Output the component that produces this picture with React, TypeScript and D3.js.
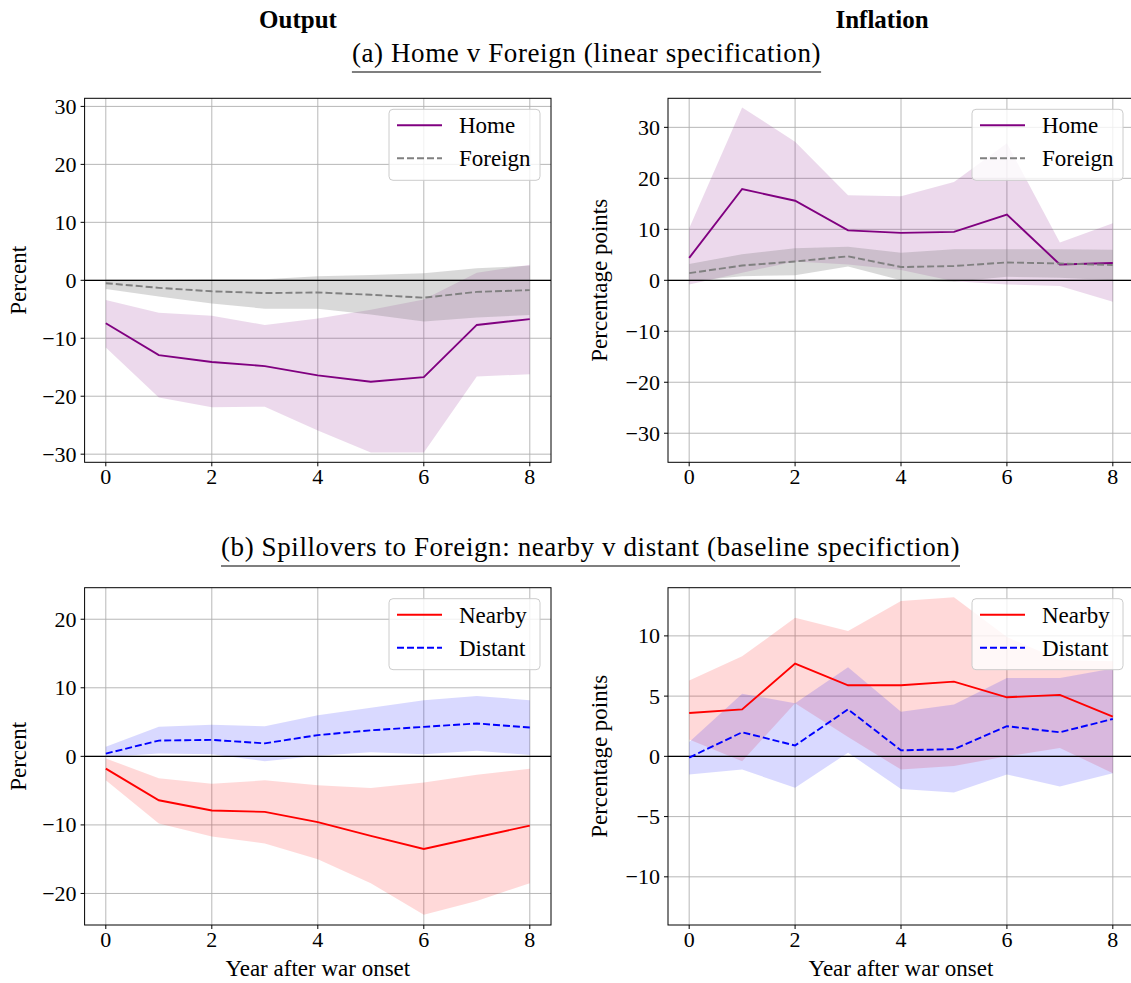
import React, { useEffect, useRef } from "react";
import * as d3 from "d3";

// ---------------- data ----------------
const years = [0, 1, 2, 3, 4, 5, 6, 7, 8];
const xTickValues = [0, 2, 4, 6, 8];

// (a) Output: Home v Foreign
const outHome = [-7.4, -12.9, -14.1, -14.8, -16.4, -17.5, -16.7, -7.7, -6.7];
const outHomeLo = [-11.6, -20.2, -21.9, -21.8, -25.9, -29.7, -29.7, -16.6, -16.2];
const outHomeHi = [-3.4, -5.6, -6.1, -7.7, -6.6, -5.1, -3.3, 1.3, 2.7];
const outForeign = [-0.5, -1.3, -1.9, -2.2, -2.1, -2.5, -3.0, -2.0, -1.7];
const outForeignLo = [-1.5, -2.8, -4.0, -4.9, -4.9, -5.9, -7.1, -6.4, -6.0];
const outForeignHi = [0.1, 0.1, 0.2, 0.2, 0.7, 0.9, 1.2, 2.1, 2.5];

// (a) Inflation: Home v Foreign
const infHome = [4.4, 17.9, 15.6, 9.8, 9.3, 9.5, 12.9, 3.1, 3.4];
const infHomeLo = [-0.8, 1.5, 3.7, 3.1, 2.0, -0.2, -0.8, -1.1, -4.2];
const infHomeHi = [10.2, 33.9, 27.2, 16.7, 16.5, 19.3, 26.9, 7.4, 11.2];
const infForeign = [1.4, 2.9, 3.7, 4.7, 2.6, 2.8, 3.5, 3.3, 3.0];
const infForeignLo = [-0.2, 0.8, 1.0, 2.7, 0.0, -0.3, 0.7, 0.5, 0.0];
const infForeignHi = [3.2, 5.1, 6.3, 6.6, 5.4, 6.1, 6.1, 6.1, 6.0];

// (b) Output: Nearby v Distant
const outNear = [-1.8, -6.4, -7.9, -8.1, -9.6, -11.6, -13.5, -11.8, -10.1];
const outNearLo = [-3.5, -9.8, -11.7, -12.7, -15.0, -18.5, -23.1, -21.1, -18.5];
const outNearHi = [-0.3, -3.2, -4.0, -3.5, -4.2, -4.6, -3.8, -2.7, -1.8];
const outDist = [0.4, 2.3, 2.4, 1.9, 3.1, 3.8, 4.3, 4.8, 4.2];
const outDistLo = [-0.1, 0.4, 0.3, -0.7, 0.1, 0.6, 0.3, 0.8, 0.2];
const outDistHi = [1.4, 4.3, 4.6, 4.4, 6.0, 7.1, 8.2, 8.8, 8.2];

// (b) Inflation: Nearby v Distant
const infNear = [3.6, 3.9, 7.7, 5.9, 5.9, 6.2, 4.9, 5.1, 3.3];
const infNearLo = [1.4, -0.4, 4.4, 1.6, -1.1, -0.8, 0.0, 0.7, -1.4];
const infNearHi = [6.3, 8.3, 11.5, 10.4, 12.9, 13.2, 9.9, 8.0, 7.9];
const infDist = [-0.1, 2.0, 0.9, 3.9, 0.5, 0.6, 2.5, 2.0, 3.1];
const infDistLo = [-1.5, -1.1, -2.6, 0.3, -2.7, -3.0, -1.5, -2.5, -1.4];
const infDistHi = [1.2, 5.2, 4.4, 7.4, 3.7, 4.3, 6.5, 6.5, 7.3];

const yTicksTop = [-30, -20, -10, 0, 10, 20, 30];
const yTicksOutB = [-20, -10, 0, 10, 20];
const yTicksInfB = [-10, -5, 0, 5, 10];

const columnTitles = ["Output", "Inflation"];
const sectionTitles = [
  "(a) Home v Foreign (linear specification)",
  "(b) Spillovers to Foreign: nearby v distant (baseline specifiction)",
];
const yLabels = ["Percent", "Percentage points"];
const xLabelText = "Year after war onset";

// ---------------- layout / style ----------------
const W = 1131;
const H = 983;
const FONT = '"Liberation Serif", "DejaVu Serif", serif';
const FS = 22;
const DASH = "7,3";
const LW = 1.9;

type Series = {
  name: string;
  mid: number[];
  lo: number[];
  hi: number[];
  color: string;
  alpha: number;
  dashed: boolean;
};

type Panel = {
  left: number;
  right: number;
  top: number;
  bottom: number;
  yDomain: [number, number];
  yTicks: number[];
  yLabel: string;
  yLabelX: number;
  xLabel: string | null;
  series: Series[];
};

const panels: Panel[] = [
  {
    left: 84.6, right: 551, top: 98.3, bottom: 462.3,
    yDomain: [-31.4, 31.4], yTicks: yTicksTop, yLabel: yLabels[0], yLabelX: 26, xLabel: null,
    series: [
      { name: "Home", mid: outHome, lo: outHomeLo, hi: outHomeHi, color: "purple", alpha: 0.15, dashed: false },
      { name: "Foreign", mid: outForeign, lo: outForeignLo, hi: outForeignHi, color: "gray", alpha: 0.3, dashed: true },
    ],
  },
  {
    left: 668, right: 1134, top: 98.3, bottom: 462.3,
    yDomain: [-35.7, 35.7], yTicks: yTicksTop, yLabel: yLabels[1], yLabelX: 607, xLabel: null,
    series: [
      { name: "Home", mid: infHome, lo: infHomeLo, hi: infHomeHi, color: "purple", alpha: 0.15, dashed: false },
      { name: "Foreign", mid: infForeign, lo: infForeignLo, hi: infForeignHi, color: "gray", alpha: 0.3, dashed: true },
    ],
  },
  {
    left: 84.6, right: 551, top: 587.7, bottom: 925,
    yDomain: [-24.6, 24.6], yTicks: yTicksOutB, yLabel: yLabels[0], yLabelX: 26, xLabel: xLabelText,
    series: [
      { name: "Nearby", mid: outNear, lo: outNearLo, hi: outNearHi, color: "red", alpha: 0.15, dashed: false },
      { name: "Distant", mid: outDist, lo: outDistLo, hi: outDistHi, color: "blue", alpha: 0.15, dashed: true },
    ],
  },
  {
    left: 668, right: 1134, top: 587.7, bottom: 925,
    yDomain: [-14, 14], yTicks: yTicksInfB, yLabel: yLabels[1], yLabelX: 607, xLabel: xLabelText,
    series: [
      { name: "Nearby", mid: infNear, lo: infNearLo, hi: infNearHi, color: "red", alpha: 0.15, dashed: false },
      { name: "Distant", mid: infDist, lo: infDistLo, hi: infDistHi, color: "blue", alpha: 0.15, dashed: true },
    ],
  },
];

const fmt = (v: number) => (v < 0 ? "\u2212" + Math.abs(v) : String(v));

function drawPanel(root: d3.Selection<SVGGElement, unknown, null, undefined>, p: Panel) {
  const g = root.append("g");
  const x = d3.scaleLinear().domain([-0.4, 8.4]).range([p.left, p.right]);
  const y = d3.scaleLinear().domain(p.yDomain).range([p.bottom, p.top]);

  // grid
  g.selectAll("line.gx")
    .data(xTickValues)
    .join("line")
    .attr("x1", (d) => x(d)).attr("x2", (d) => x(d))
    .attr("y1", p.top).attr("y2", p.bottom)
    .attr("stroke", "#b0b0b0").attr("stroke-width", 0.9);
  g.selectAll("line.gy")
    .data(p.yTicks)
    .join("line")
    .attr("x1", p.left).attr("x2", p.right)
    .attr("y1", (d) => y(d)).attr("y2", (d) => y(d))
    .attr("stroke", "#b0b0b0").attr("stroke-width", 0.9);

  // bands
  p.series.forEach((s) => {
    const area = d3
      .area<number>()
      .x((_, i) => x(years[i]))
      .y0((_, i) => y(s.lo[i]))
      .y1((_, i) => y(s.hi[i]));
    g.append("path").attr("d", area(years) as string)
      .attr("fill", s.color).attr("fill-opacity", s.alpha).attr("stroke", "none");
  });

  // zero line
  g.append("line")
    .attr("x1", p.left).attr("x2", p.right)
    .attr("y1", y(0)).attr("y2", y(0))
    .attr("stroke", "black").attr("stroke-width", 1.2);

  // lines
  p.series.forEach((s) => {
    const line = d3.line<number>().x((_, i) => x(years[i])).y((d) => y(d));
    g.append("path").attr("d", line(s.mid) as string)
      .attr("fill", "none").attr("stroke", s.color).attr("stroke-width", LW)
      .attr("stroke-dasharray", s.dashed ? DASH : null);
  });

  // spines
  g.append("rect")
    .attr("x", p.left).attr("y", p.top)
    .attr("width", p.right - p.left).attr("height", p.bottom - p.top)
    .attr("fill", "none").attr("stroke", "black").attr("stroke-width", 1);

  // ticks
  g.selectAll("line.tx")
    .data(xTickValues)
    .join("line")
    .attr("x1", (d) => x(d)).attr("x2", (d) => x(d))
    .attr("y1", p.bottom).attr("y2", p.bottom + 4)
    .attr("stroke", "black").attr("stroke-width", 1);
  g.selectAll("text.tx")
    .data(xTickValues)
    .join("text")
    .attr("x", (d) => x(d)).attr("y", p.bottom + 22)
    .attr("text-anchor", "middle")
    .attr("font-family", FONT).attr("font-size", FS)
    .text((d) => fmt(d));
  g.selectAll("line.ty")
    .data(p.yTicks)
    .join("line")
    .attr("x1", p.left - 4).attr("x2", p.left)
    .attr("y1", (d) => y(d)).attr("y2", (d) => y(d))
    .attr("stroke", "black").attr("stroke-width", 1);
  g.selectAll("text.ty")
    .data(p.yTicks)
    .join("text")
    .attr("x", p.left - 8).attr("y", (d) => y(d))
    .attr("dy", "0.34em")
    .attr("text-anchor", "end")
    .attr("font-family", FONT).attr("font-size", FS)
    .text((d) => fmt(d));

  // axis labels
  const cy = (p.top + p.bottom) / 2;
  g.append("text")
    .attr("transform", `translate(${p.yLabelX},${cy}) rotate(-90)`)
    .attr("text-anchor", "middle")
    .attr("font-family", FONT).attr("font-size", FS + 1)
    .text(p.yLabel);
  if (p.xLabel) {
    g.append("text")
      .attr("x", (p.left + p.right) / 2).attr("y", p.bottom + 51)
      .attr("text-anchor", "middle")
      .attr("font-family", FONT).attr("font-size", FS + 1)
      .text(p.xLabel);
  }

  // legend
  const lw = 151;
  const lh = 71;
  const lx = p.right - 11 - lw;
  const ly = p.top + 11;
  const lg = g.append("g");
  lg.append("rect")
    .attr("x", lx).attr("y", ly).attr("width", lw).attr("height", lh)
    .attr("rx", 4).attr("fill", "white").attr("fill-opacity", 0.8)
    .attr("stroke", "#cccccc").attr("stroke-width", 1);
  p.series.forEach((s, i) => {
    const yy = ly + 16 + i * 33;
    lg.append("line")
      .attr("x1", lx + 8).attr("x2", lx + 53)
      .attr("y1", yy).attr("y2", yy)
      .attr("stroke", s.color).attr("stroke-width", LW)
      .attr("stroke-dasharray", s.dashed ? DASH : null);
    lg.append("text")
      .attr("x", lx + 70).attr("y", yy).attr("dy", "0.35em")
      .attr("font-family", FONT).attr("font-size", FS + 1)
      .text(s.name);
  });
}

export default function App() {
  const ref = useRef<SVGSVGElement | null>(null);

  useEffect(() => {
    const svg = d3.select(ref.current as SVGSVGElement);
    svg.selectAll("*").remove();
    const root = svg.append("g");

    panels.forEach((p) => drawPanel(root, p));

    // column titles
    const colX = [298, 882];
    columnTitles.forEach((t, i) => {
      root.append("text")
        .attr("x", colX[i]).attr("y", 28)
        .attr("text-anchor", "middle")
        .attr("font-family", FONT).attr("font-size", 25).attr("font-weight", "bold")
        .text(t);
    });

    // section titles with underline
    const secPos = [
      { cx: 586.5, y: 62, uy: 72 },
      { cx: 590.5, y: 556, uy: 566 },
    ];
    sectionTitles.forEach((t, i) => {
      const txt = root.append("text")
        .attr("x", secPos[i].cx).attr("y", secPos[i].y)
        .attr("text-anchor", "middle")
        .attr("font-family", FONT).attr("font-size", 27)
        .attr("letter-spacing", 0.6)
        .text(t);
      const bb = (txt.node() as SVGTextElement).getBBox();
      root.append("line")
        .attr("x1", bb.x).attr("x2", bb.x + bb.width)
        .attr("y1", secPos[i].uy).attr("y2", secPos[i].uy)
        .attr("stroke", "black").attr("stroke-width", 1.2);
    });
  }, []);

  return (
    <svg
      ref={ref}
      width={W}
      height={H}
      style={{ position: "absolute", left: 0, top: 0, background: "white" }}
    />
  );
}
